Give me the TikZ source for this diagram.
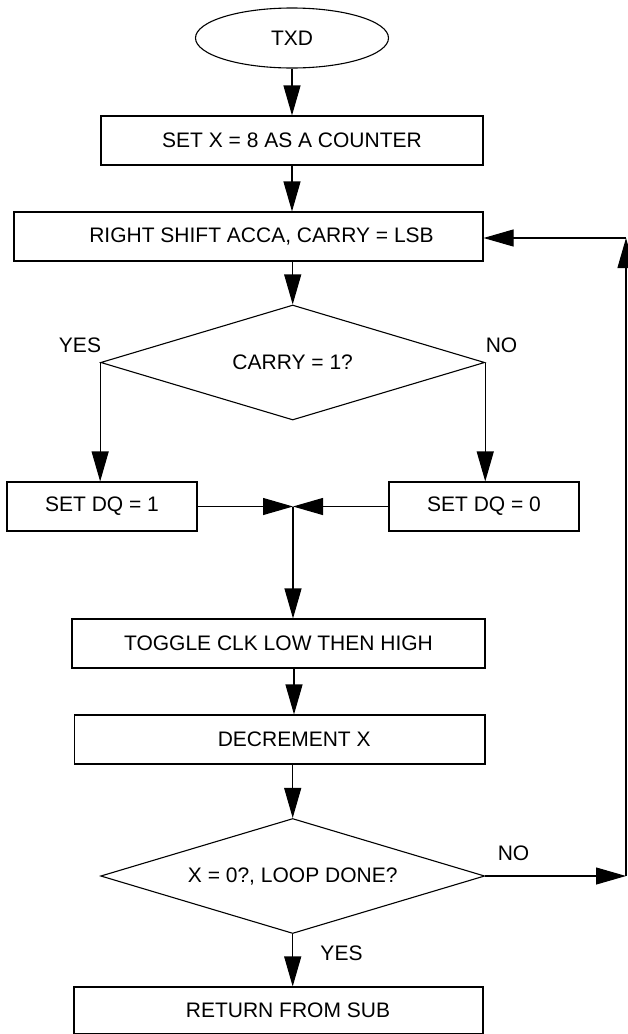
\documentclass[tikz,border=0pt]{standalone}
\usepackage{fontspec}
\setmainfont{Liberation Sans}
\usetikzlibrary{shapes.geometric,arrows.meta,calc}
\begin{document}
\begin{tikzpicture}[x=1pt,y=-1pt,
  every node/.style={font=\fontsize{21}{24}\selectfont},
  arr/.style={line width=1.1pt,-{Triangle[length=30pt,width=17pt]}},
  box/.style={draw,line width=1.1pt,rectangle,inner sep=0pt,minimum height=49pt},
  dia/.style={draw,line width=1.1pt,diamond,shape aspect=3.34,inner sep=0pt,minimum width=384pt,minimum height=115pt},
  lbl/.style={inner sep=0pt}]
\useasboundingbox (0,0) rectangle (627,1034);
\node[draw,ellipse,line width=1.1pt,inner sep=0pt,minimum width=193pt,minimum height=60pt] (txd) at (292,38) {TXD};
\node[box,minimum width=382pt] (b1) at (292,140.5) {SET X = 8 AS A COUNTER};
\node[box,minimum width=469pt] (b2) at (248.5,236.5) {\hspace*{26pt}RIGHT SHIFT ACCA, CARRY = LSB};
\node[dia] (d1) at (292.7,362.5) {CARRY = 1?};
\node[box,minimum width=190pt] (q1) at (102,506.5) {SET DQ = 1};
\node[box,minimum width=190pt] (q0) at (484,506.5) {SET DQ = 0};
\coordinate (j) at (293,506.5);
\node[box,minimum width=413pt] (tg) at (278.5,643.5) {TOGGLE CLK LOW THEN HIGH};
\node[box,minimum width=410.5pt] (dc) at (279.75,739.5) {\hspace*{29pt}DECREMENT X};
\node[dia] (d2) at (292.7,876) {X = 0?, LOOP DONE?};
\node[box,minimum width=409pt,minimum height=46.5pt] (rt) at (278.5,1010.25) {\hspace*{19pt}RETURN FROM SUB};
\coordinate (c1) at (626,876);
\coordinate (c2) at (626,238);
\node[lbl] (y1) at (80,345) {YES};
\node[lbl] (n1) at (501.5,345) {NO};
\node[lbl] (n2) at (513.5,853) {NO};
\node[lbl] (y2) at (341.5,953) {YES};
\draw[arr] (txd.south) -- (txd.south |- b1.north);
\draw[arr] (b1.south) -- (b1.south |- b2.north);
\draw[arr] (d1.north |- b2.south) -- (d1.north);
\draw[arr] (d1.west) -- (d1.west |- q1.north);
\draw[arr] (d1.east) -- (d1.east |- q0.north);
\draw[arr] (q1.east) -- (j);
\draw[arr] (q0.west) -- (j);
\draw[arr] (j) -- (j |- tg.north);
\draw[arr] ([xshift=1pt]j |- tg.south) -- ([xshift=1pt]j |- dc.north);
\draw[arr] (d2.north |- dc.south) -- (d2.north);
\draw[arr] (d2.south) -- (d2.south |- rt.north);
\draw[arr] (d2.east) -- (c1);
\draw[arr] (c1) -- (c2);
\draw[arr] (c2) -- (c2 -| b2.east);
\end{tikzpicture}
\end{document}
